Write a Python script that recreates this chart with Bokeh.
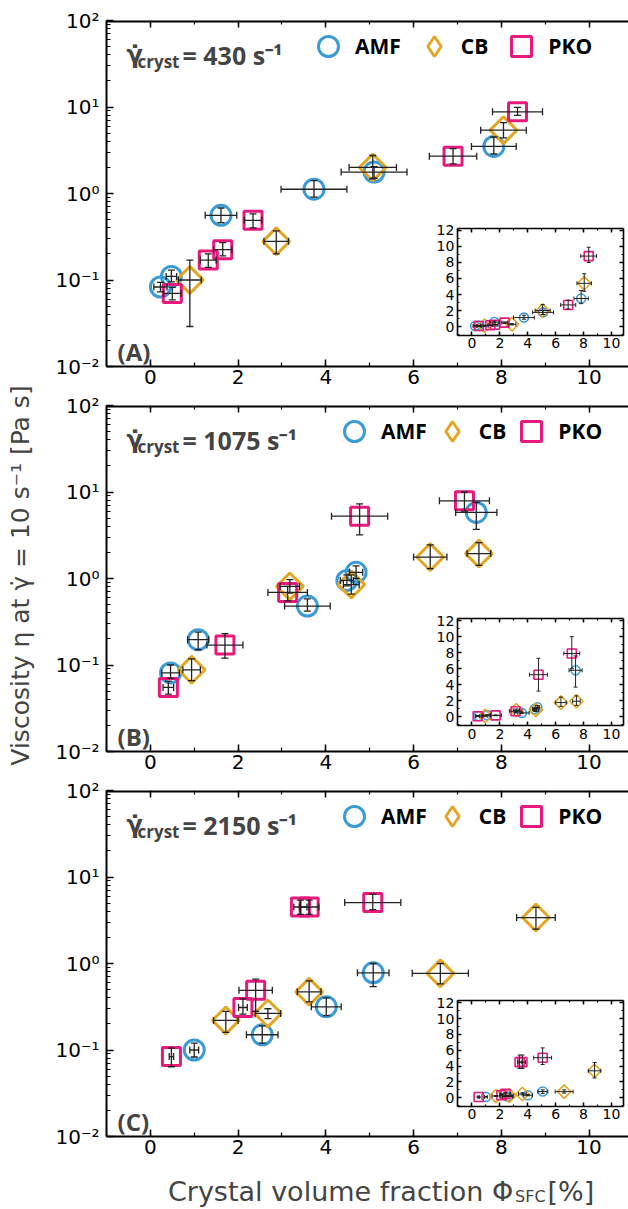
import numpy as np
from bokeh.plotting import figure
from bokeh.models import (ColumnDataSource, Range1d, LinearAxis, LinearScale, Whisker, TeeHead,
                          SingleIntervalTicker, LogTicker, CustomJSTickFormatter, Legend,
                          LegendItem, Label)
from bokeh.layouts import row, column
from bokeh.embed import file_html
from bokeh.resources import INLINE

# ---------------- data ----------------
SERIES_NAMES = ["AMF", "CB", "PKO"]
SHEAR_RATES = ["430", "1075", "2150"]
PANEL_TAGS = ["(A)", "(B)", "(C)"]

# Panel A  (shear rate 430 1/s)
A_AMF_x    = [0.23, 0.48, 1.61, 3.73, 5.10, 7.83]
A_AMF_y    = [0.083, 0.11, 0.56, 1.12, 1.77, 3.5]
A_AMF_xerr = [0.15, 0.12, 0.36, 0.75, 0.75, 0.51]
A_AMF_ylo  = [0.073, 0.095, 0.46, 0.91, 1.5, 2.86]
A_AMF_yhi  = [0.094, 0.13, 0.68, 1.41, 2.05, 4.5]

A_CB_x    = [0.90, 2.87, 5.07, 8.05]
A_CB_y    = [0.10, 0.28, 2.0, 5.4]
A_CB_xerr = [0.26, 0.28, 0.54, 0.52]
A_CB_ylo  = [0.029, 0.20, 1.48, 4.4]
A_CB_yhi  = [0.17, 0.37, 2.75, 6.6]

A_PKO_x    = [0.50, 1.32, 1.65, 2.34, 6.90, 8.37]
A_PKO_y    = [0.07, 0.17, 0.224, 0.49, 2.7, 8.8]
A_PKO_xerr = [0.20, 0.18, 0.21, 0.20, 0.54, 0.57]
A_PKO_ylo  = [0.059, 0.14, 0.19, 0.40, 2.2, 8.0]
A_PKO_yhi  = [0.082, 0.20, 0.27, 0.58, 3.3, 9.9]

# Panel B  (shear rate 1075 1/s)
B_AMF_x    = [0.46, 1.09, 3.58, 4.48, 4.69, 7.43]
B_AMF_y    = [0.081, 0.196, 0.48, 0.95, 1.18, 5.8]
B_AMF_xerr = [0.20, 0.24, 0.52, 0.15, 0.15, 0.47]
B_AMF_ylo  = [0.07, 0.15, 0.42, 0.82, 1.0, 3.7]
B_AMF_yhi  = [0.10, 0.24, 0.58, 1.1, 1.4, 7.6]

B_CB_x    = [0.94, 3.18, 4.58, 6.38, 7.49]
B_CB_y    = [0.088, 0.81, 0.85, 1.77, 1.94]
B_CB_xerr = [0.20, 0.22, 0.18, 0.38, 0.27]
B_CB_ylo  = [0.066, 0.68, 0.66, 1.3, 1.42]
B_CB_yhi  = [0.118, 0.97, 1.1, 2.45, 2.6]

B_PKO_x    = [0.41, 1.70, 3.13, 4.77, 7.16]
B_PKO_y    = [0.055, 0.17, 0.69, 5.25, 7.9]
B_PKO_xerr = [0.12, 0.41, 0.45, 0.64, 0.57]
B_PKO_ylo  = [0.046, 0.12, 0.55, 3.2, 6.0]
B_PKO_yhi  = [0.065, 0.23, 0.81, 7.3, 10.0]

# Panel C  (shear rate 2150 1/s)
C_AMF_x    = [1.00, 2.55, 4.01, 5.08]
C_AMF_y    = [0.10, 0.15, 0.316, 0.78]
C_AMF_xerr = [0.10, 0.36, 0.34, 0.36]
C_AMF_ylo  = [0.083, 0.12, 0.25, 0.54]
C_AMF_yhi  = [0.12, 0.19, 0.40, 1.0]

C_CB_x    = [1.72, 2.68, 3.62, 6.61, 8.79]
C_CB_y    = [0.22, 0.265, 0.47, 0.77, 3.4]
C_CB_xerr = [0.28, 0.29, 0.27, 0.64, 0.44]
C_CB_ylo  = [0.16, 0.23, 0.36, 0.58, 2.5]
C_CB_yhi  = [0.28, 0.30, 0.63, 1.0, 4.45]

C_PKO_x    = [0.48, 2.11, 2.40, 3.42, 3.62, 5.07]
C_PKO_y    = [0.084, 0.31, 0.49, 4.5, 4.5, 5.06]
C_PKO_xerr = [0.05, 0.10, 0.38, 0.15, 0.22, 0.64]
C_PKO_ylo  = [0.064, 0.26, 0.28, 3.7, 3.7, 4.2]
C_PKO_yhi  = [0.105, 0.39, 0.66, 5.4, 5.4, 6.3]

PANEL_DATA = [
    {"AMF": (A_AMF_x, A_AMF_y, A_AMF_xerr, A_AMF_ylo, A_AMF_yhi),
     "CB": (A_CB_x, A_CB_y, A_CB_xerr, A_CB_ylo, A_CB_yhi),
     "PKO": (A_PKO_x, A_PKO_y, A_PKO_xerr, A_PKO_ylo, A_PKO_yhi)},
    {"AMF": (B_AMF_x, B_AMF_y, B_AMF_xerr, B_AMF_ylo, B_AMF_yhi),
     "CB": (B_CB_x, B_CB_y, B_CB_xerr, B_CB_ylo, B_CB_yhi),
     "PKO": (B_PKO_x, B_PKO_y, B_PKO_xerr, B_PKO_ylo, B_PKO_yhi)},
    {"AMF": (C_AMF_x, C_AMF_y, C_AMF_xerr, C_AMF_ylo, C_AMF_yhi),
     "CB": (C_CB_x, C_CB_y, C_CB_xerr, C_CB_ylo, C_CB_yhi),
     "PKO": (C_PKO_x, C_PKO_y, C_PKO_xerr, C_PKO_ylo, C_PKO_yhi)},
]

# ---------------- styling / layout ----------------
COLORS = {"AMF": "#3a9bd7", "CB": "#e2a623", "PKO": "#e8197d"}
ERR_COLOR = "#222222"
MAIN_MARK = {"AMF": ("circle", 20, 0.0), "CB": ("square", 19, np.pi / 4), "PKO": ("square", 18, 0.0)}
INSET_MARK = {"AMF": ("circle", 9, 0.0), "CB": ("square", 9.5, np.pi / 4), "PKO": ("square", 9, 0.0)}

XMIN, XMAX = -1.0, 10.9
YMIN, YMAX = 1e-2, 1e2
IX = (-1.05, 10.85)
IY = (-1.1, 12.25)
INSET_FX = (0.672, 0.990)

TITLE_W = 48
PANEL_W = 580
BORDER_L = 58
FRAME_H = 346
FRAME_PX_LEFT = 106
FRAME_PX_W = 522
STRIP_H = 44
LEG_BOX = 50

PANEL_GEOM = [
    dict(height=393, top=20, bottom=27, inset_fy=(0.090, 0.399), legend_x=197, spacing=8),
    dict(height=385, top=12, bottom=27, inset_fy=(0.075, 0.384), legend_x=223, spacing=0),
    dict(height=385, top=12, bottom=27, inset_fy=(0.087, 0.392), legend_x=223, spacing=0),
]
TOTAL_H = sum(g["height"] for g in PANEL_GEOM) + STRIP_H

SUP_JS = """
const sup = {"-": "\\u207b", "0": "\\u2070", "1": "\\u00b9", "2": "\\u00b2", "3": "\\u00b3"};
const e = Math.round(Math.log10(tick));
return "10" + String(e).split("").map((c) => sup[c]).join("");
"""


def data_x(px):
    return XMIN + (px - FRAME_PX_LEFT) / FRAME_PX_W * (XMAX - XMIN)


def data_y(dpx):
    lo, hi = np.log10(YMIN), np.log10(YMAX)
    return 10 ** (hi - dpx / FRAME_H * (hi - lo))


def ext_range(lo, hi, f0, f1):
    span = (hi - lo) / (f1 - f0)
    start = lo - f0 * span
    return Range1d(start=start, end=start + span)


def make_source(x, y, xerr, ylo, yhi):
    x = np.asarray(x, float)
    xerr = np.asarray(xerr, float)
    return ColumnDataSource(dict(x=x, y=np.asarray(y, float), xlo=x - xerr, xhi=x + xerr,
                                 ylo=np.asarray(ylo, float), yhi=np.asarray(yhi, float)))


def style_axis(ax, size="20px", tick_in=7, minor_in=4, lw=2, standoff=5, font="DejaVu Sans",
               labels=True):
    ax.axis_line_width = lw
    ax.axis_line_color = "black"
    ax.major_tick_in = tick_in
    ax.major_tick_out = 0
    ax.minor_tick_in = minor_in
    ax.minor_tick_out = 0
    ax.major_tick_line_width = 1.5
    ax.minor_tick_line_width = 1.2
    ax.major_tick_line_color = "black"
    ax.minor_tick_line_color = "black"
    ax.major_label_text_font = font
    ax.major_label_text_font_size = size
    ax.major_label_text_color = "black" if labels else None
    ax.major_label_standoff = standoff


def add_errors(p, s, head, lw, **rn):
    for dim, base, lo, hi in (("height", "x", "ylo", "yhi"), ("width", "y", "xlo", "xhi")):
        p.add_layout(Whisker(source=s, base=base, lower=lo, upper=hi, dimension=dim,
                             line_color=ERR_COLOR, line_width=lw, level="annotation",
                             upper_head=TeeHead(size=head, line_color=ERR_COLOR, line_width=lw),
                             lower_head=TeeHead(size=head, line_color=ERR_COLOR, line_width=lw),
                             **rn))


def make_panel(idx):
    g = PANEL_GEOM[idx]
    data = PANEL_DATA[idx]
    p = figure(width=PANEL_W, height=g["height"], x_range=Range1d(XMIN, XMAX),
               y_range=Range1d(YMIN, YMAX), y_axis_type="log", output_backend="svg",
               toolbar_location=None, title=None, min_border_left=BORDER_L, min_border_right=0,
               min_border_top=g["top"], min_border_bottom=g["bottom"])
    p.outline_line_color = None
    p.grid.visible = False
    p.background_fill_color = "white"
    p.border_fill_color = "white"

    # main axes
    xa = p.xaxis[0]
    xa.ticker = SingleIntervalTicker(interval=2, num_minor_ticks=2)
    style_axis(xa, standoff=3)
    ya = p.yaxis[0]
    ya.ticker = LogTicker(num_minor_ticks=10)
    ya.formatter = CustomJSTickFormatter(code=SUP_JS)
    style_axis(ya, standoff=7)
    # top frame edge with inward ticks
    top = LinearAxis(fixed_location=YMAX, ticker=SingleIntervalTicker(interval=2, num_minor_ticks=2))
    style_axis(top, size="10px", lw=4, standoff=0, labels=False)
    p.add_layout(top, "above")

    # inset ranges (linear)
    p.extra_x_ranges = {"ix": ext_range(IX[0], IX[1], *INSET_FX)}
    p.extra_y_ranges = {"iy": ext_range(IY[0], IY[1], *g["inset_fy"])}
    p.extra_x_scales = {"ix": LinearScale()}
    p.extra_y_scales = {"iy": LinearScale()}
    rn = dict(x_range_name="ix", y_range_name="iy")

    legend_renderers = {}
    for name in SERIES_NAMES:
        s = make_source(*data[name])
        mk, sz, ang = MAIN_MARK[name]
        r = p.scatter(x="x", y="y", source=s, marker=mk, size=sz, angle=ang,
                      line_color=COLORS[name], line_width=3, fill_color=None)
        legend_renderers[name] = r
        add_errors(p, s, 7, 1.3)
        mk, sz, ang = INSET_MARK[name]
        p.scatter(x="x", y="y", source=s, marker=mk, size=sz, angle=ang,
                  line_color=COLORS[name], line_width=1.6, fill_color=None, **rn)
        add_errors(p, s, 4, 1.0, **rn)

    # legend key for CB drawn upright as a diamond (key only, its single point is NaN)
    legend_renderers["CB"] = p.scatter(x=[np.nan], y=[np.nan], marker="diamond",
                                       line_color=COLORS["CB"], line_width=3, fill_color=None)

    # inset axes
    tk = lambda: SingleIntervalTicker(interval=2, num_minor_ticks=2)
    ib = LinearAxis(fixed_location=IY[0], bounds=IX, ticker=tk(), **rn)
    style_axis(ib, size="14px", tick_in=4, minor_in=2, lw=1.6, standoff=3)
    il = LinearAxis(fixed_location=IX[0], bounds=IY, ticker=tk(), **rn)
    style_axis(il, size="14px", tick_in=4, minor_in=2, lw=1.6, standoff=3)
    it = LinearAxis(fixed_location=IY[1], bounds=IX, ticker=tk(), **rn)
    style_axis(it, size="10px", tick_in=4, minor_in=2, lw=1.6, standoff=0, labels=False)
    ir = LinearAxis(fixed_location=IX[1], bounds=IY, ticker=tk(), **rn)
    style_axis(ir, size="10px", tick_in=4, minor_in=2, lw=1.6, standoff=0, labels=False)
    p.add_layout(ib, "below")
    p.add_layout(il, "left")
    p.add_layout(it, "above")
    p.add_layout(ir, "right")

    # legend
    leg = Legend(items=[LegendItem(label=n, renderers=[legend_renderers[n]]) for n in SERIES_NAMES],
                 orientation="horizontal",
                 location=(g["legend_x"], FRAME_H - 25.5 - LEG_BOX / 2),
                 glyph_width=LEG_BOX, glyph_height=LEG_BOX, label_standoff=2, spacing=g["spacing"],
                 padding=0, margin=0, background_fill_alpha=0, border_line_alpha=0,
                 label_text_font="Open Sans", label_text_font_size="21px",
                 label_text_font_style="bold", label_text_color="black")
    p.add_layout(leg)

    # in-panel texts
    p.add_layout(Label(x=data_x(126), y=data_y(34.5), text="\u03b3\u0307",
                       text_font="DejaVu Sans", text_font_style="bold", text_font_size="24px",
                       text_baseline="alphabetic", text_align="left"))
    p.add_layout(Label(x=data_x(137), y=data_y(40.5), text="cryst",
                       text_font="Open Sans", text_font_style="bold", text_font_size="17px",
                       text_baseline="alphabetic", text_align="left"))
    p.add_layout(Label(x=data_x(182), y=data_y(34.5), text=f"= {SHEAR_RATES[idx]} s\u207b\u00b9",
                       text_font="Open Sans", text_font_style="bold", text_font_size="25px",
                       text_baseline="alphabetic", text_align="left"))
    p.add_layout(Label(x=data_x(117), y=data_y(330.5), text=PANEL_TAGS[idx],
                       text_font="Open Sans", text_font_style="bold", text_font_size="24px",
                       text_baseline="alphabetic", text_align="left"))
    return p


panels = [make_panel(i) for i in range(3)]

# x-axis title strip under the last panel
strip = figure(width=PANEL_W, height=STRIP_H, x_range=Range1d(0, PANEL_W), y_range=Range1d(0, STRIP_H),
               output_backend="svg", toolbar_location=None, title=None, min_border=0,
               x_axis_location=None, y_axis_location=None)
strip.outline_line_color = None
strip.grid.visible = False
strip.add_layout(Label(x=500 - TITLE_W, y=16, text="Crystal volume fraction \u03a6",
                       text_font="DejaVu Sans", text_font_size="27px",
                       text_baseline="alphabetic", text_align="right"))
strip.add_layout(Label(x=502 - TITLE_W, y=11, text="SFC",
                       text_font="DejaVu Sans", text_font_size="16px",
                       text_baseline="alphabetic", text_align="left"))
strip.add_layout(Label(x=538 - TITLE_W, y=16, text="[%]",
                       text_font="DejaVu Sans", text_font_size="27px",
                       text_baseline="alphabetic", text_align="left"))

# shared y-axis title
t = figure(width=TITLE_W, height=TOTAL_H, x_range=Range1d(0, TITLE_W), y_range=Range1d(0, TOTAL_H),
           output_backend="svg", toolbar_location=None, title=None, min_border=0,
           x_axis_location=None, y_axis_location=None)
t.outline_line_color = None
t.grid.visible = False
t.add_layout(Label(x=20, y=TOTAL_H - 575,
                   text="Viscosity \u03b7 at \u03b3\u0307 = 10 s\u207b\u00b9 [Pa s]",
                   angle=np.pi / 2, text_align="center", text_baseline="middle",
                   text_font="DejaVu Sans", text_font_size="25px"))

layout = row(t, column(*panels, strip))
open("out.html", "w").write(file_html(layout, INLINE))
